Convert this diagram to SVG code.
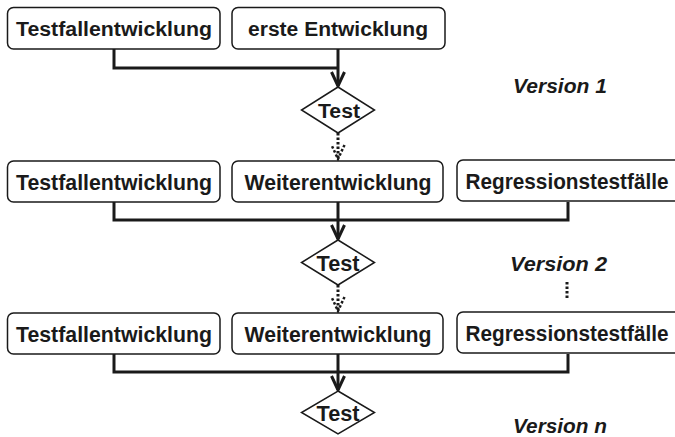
<svg xmlns="http://www.w3.org/2000/svg" width="675" height="437" viewBox="0 0 675 437">
<defs>
<style>
.box{fill:#fff;stroke:#1a1a1a;stroke-width:1.5}
.dia{fill:#fff;stroke:#1a1a1a;stroke-width:1.5}
.lbl{font-family:"Liberation Sans",Arial,sans-serif;font-weight:bold;font-size:20px;fill:#1a1a1a;text-anchor:middle}
.lbl2{font-size:22px}
.ver{font-family:"Liberation Sans",Arial,sans-serif;font-weight:bold;font-style:italic;font-size:20px;fill:#1a1a1a}
.con{fill:none;stroke:#1a1a1a;stroke-width:3}
.dot{fill:none;stroke:#1a1a1a;stroke-width:3;stroke-dasharray:2.5,2}
</style>
<marker id="ah" markerUnits="userSpaceOnUse" markerWidth="18" markerHeight="18" viewBox="0 0 18 18" refX="16" refY="9" orient="auto">
<path d="M2,2.5 L16,9 L2,15.5" fill="none" stroke="#1a1a1a" stroke-width="3"/>
</marker>
<marker id="ahd" markerUnits="userSpaceOnUse" markerWidth="18" markerHeight="18" viewBox="0 0 18 18" refX="16" refY="9" orient="auto">
<path d="M2,2.5 L16,9 L2,15.5" fill="none" stroke="#1a1a1a" stroke-width="2.5" stroke-dasharray="2.5,2"/>
</marker>
</defs>
<rect width="675" height="437" fill="#fff"/>

<g id="connectors">
<path class="con" d="M114,49 V68 H338"/>
<path class="con" d="M338,49 V86" marker-end="url(#ah)"/>
<path class="dot" d="M338,133 V159" marker-end="url(#ahd)"/>
<path class="con" d="M114,202 V220 H568 V202"/>
<path class="con" d="M338,202 V239" marker-end="url(#ah)"/>
<path class="dot" d="M338,285 V311" marker-end="url(#ahd)"/>
<path class="con" d="M114,354 V372 H568 V354"/>
<path class="con" d="M338,354 V390" marker-end="url(#ah)"/>
<path class="dot" d="M567,282 V300"/>
</g>

<g id="r1-testfall">
<rect class="box" x="7.5" y="7.5" width="212.5" height="41.5" rx="6"/>
<text class="lbl" x="114" y="36" textLength="196" lengthAdjust="spacingAndGlyphs">Testfallentwicklung</text>
</g>
<g id="r1-erste">
<rect class="box" x="232" y="7.5" width="213" height="41.5" rx="6"/>
<text class="lbl" x="338" y="36" textLength="180" lengthAdjust="spacingAndGlyphs">erste Entwicklung</text>
</g>
<g id="r1-test">
<polygon class="dia" points="338,87 374.5,110 338,133 301.5,110"/>
<text class="lbl" x="339" y="117.5" textLength="42" lengthAdjust="spacingAndGlyphs">Test</text>
</g>
<g id="v1">
<text class="ver" x="513" y="93" textLength="94" lengthAdjust="spacingAndGlyphs">Version 1</text>
</g>

<g id="r2-testfall">
<rect class="box" x="7.5" y="161" width="212.5" height="41" rx="6"/>
<text class="lbl lbl2" x="114" y="189.5" textLength="196" lengthAdjust="spacingAndGlyphs">Testfallentwicklung</text>
</g>
<g id="r2-weiter">
<rect class="box" x="232" y="161" width="211" height="41" rx="6"/>
<text class="lbl lbl2" x="338" y="189.5" textLength="187" lengthAdjust="spacingAndGlyphs">Weiterentwicklung</text>
</g>
<g id="r2-regression">
<rect class="box" x="457" y="160" width="240" height="41" rx="6"/>
<text class="lbl lbl2" x="567" y="188.5" textLength="203" lengthAdjust="spacingAndGlyphs">Regressionstestfälle</text>
</g>
<g id="r2-test">
<polygon class="dia" points="338,240 374.5,262.5 338,285 301.5,262.5"/>
<text class="lbl lbl2" x="338" y="270.5" textLength="43" lengthAdjust="spacingAndGlyphs">Test</text>
</g>
<g id="v2">
<text class="ver" x="510" y="271" textLength="97" lengthAdjust="spacingAndGlyphs">Version 2</text>
</g>

<g id="r3-testfall">
<rect class="box" x="7.5" y="313" width="212.5" height="41" rx="6"/>
<text class="lbl lbl2" x="114" y="341.5" textLength="196" lengthAdjust="spacingAndGlyphs">Testfallentwicklung</text>
</g>
<g id="r3-weiter">
<rect class="box" x="232" y="313" width="211" height="41" rx="6"/>
<text class="lbl lbl2" x="338" y="341.5" textLength="187" lengthAdjust="spacingAndGlyphs">Weiterentwicklung</text>
</g>
<g id="r3-regression">
<rect class="box" x="457" y="312" width="240" height="41" rx="6"/>
<text class="lbl lbl2" x="567" y="340.5" textLength="203" lengthAdjust="spacingAndGlyphs">Regressionstestfälle</text>
</g>
<g id="r3-test">
<polygon class="dia" points="338,391 374.5,412.5 338,434 301.5,412.5"/>
<text class="lbl lbl2" x="338" y="420.5" textLength="43" lengthAdjust="spacingAndGlyphs">Test</text>
</g>
<g id="vn">
<text class="ver" x="513" y="433" textLength="94" lengthAdjust="spacingAndGlyphs">Version n</text>
</g>
</svg>
